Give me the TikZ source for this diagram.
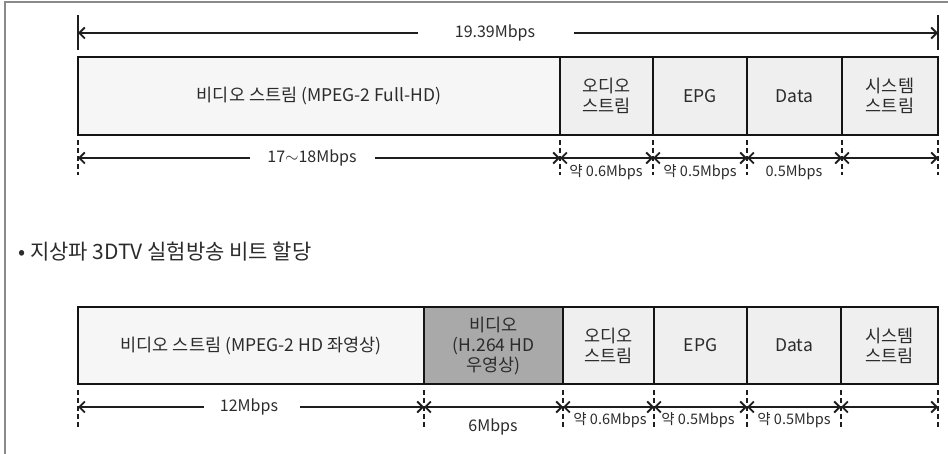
\documentclass[tikz,border=0pt]{standalone}
\usepackage{fontspec}
\setmainfont{Noto Sans CJK KR}
\usetikzlibrary{arrows.meta,calc}
\definecolor{txt}{HTML}{2B2B2B}
\definecolor{linec}{HTML}{1E1E1E}
\definecolor{framec}{HTML}{8A8A8A}
\definecolor{cellgray}{HTML}{EFEFEF}
\definecolor{cellvid}{HTML}{F6F6F6}
\definecolor{celldark}{HTML}{A9A9A9}
\begin{document}
\begin{tikzpicture}[x=1pt,y=-1pt,
  cell/.style={draw=black!92, line width=2.8pt, fill=#1, inner sep=0pt, outer sep=0pt,
    text=txt, font=\fontsize{17.5}{20}\selectfont, align=center},
  cell/.default=cellgray,
  tip/.tip={Straight Barb[length=5.5pt,width=11pt,line width=1.8pt]},
  dim/.style={line width=1.7pt, draw=linec, -tip},
  ddim/.style={line width=1.7pt, draw=linec, tip-tip},
  tickd/.style={line width=1.9pt, draw=linec, dash pattern=on 5pt off 3pt},
  ticks/.style={line width=1.9pt, draw=linec},
  lbl/.style={text=txt, inner sep=1pt, font=\fontsize{14.5}{16}\selectfont},
  big/.style={text=txt, inner sep=1pt, font=\fontsize{16}{18}\selectfont}
]
\useasboundingbox (0,0) rectangle (948,454);
\draw[framec, line width=1.2pt] (5,454) -- (5,2) -- (948,2);

% ---------- row 1 ----------
\node[cell=cellvid, minimum width=482pt, minimum height=78pt] (v1) at (319,96) {비디오 스트림 (MPEG-2 Full-HD)};
\node[cell, minimum width=93pt, minimum height=78pt] (a1) at (606.5,96) {오디오\\스트림};
\node[cell, minimum width=94pt, minimum height=78pt] (e1) at (700,96) {EPG};
\node[cell, minimum width=95pt, minimum height=78pt] (d1) at (794.5,96) {Data};
\node[cell, minimum width=96pt, minimum height=78pt] (s1) at (890,96) {시스템\\스트림};

% total
\coordinate (tl) at (78,33);
\coordinate (tr) at (938,33);
\coordinate (tg1) at (418,33);
\coordinate (tg2) at (574,33);
\node[big] (tot) at (495,33) {19.39Mbps};
\draw[ticks] ($(tl)+(0,-18)$) -- ($(tl)+(0,17)$);
\draw[ticks] ($(tr)+(0,-18)$) -- ($(tr)+(0,17)$);
\draw[dim] (tg1) -- (tl);
\draw[dim] (tg2) -- (tr);

% bottom dims row 1
\foreach \n/\x in {p0/78,p1/560,p2/653,p3/747,p4/842,p5/938}{\coordinate (\n) at (\x,158);}
\foreach \n in {p0,p1,p2,p3,p4,p5}{\draw[tickd] ($(\n)+(0,-18)$) -- ($(\n)+(0,17)$);}
\node[big] (l17) at (312,158) {17$\sim$18Mbps};
\coordinate (g1) at (250,158);
\coordinate (g2) at (375,158);
\draw[dim] (g1) -- (p0);
\draw[dim] (g2) -- (p1);
\draw[ddim] (p1) -- (p2);
\draw[ddim] (p2) -- (p3);
\draw[ddim] (p3) -- (p4);
\draw[ddim] (p4) -- (p5);
\node[lbl] (q1) at (606,172) {약 0.6Mbps};
\node[lbl] (q2) at (700,172) {약 0.5Mbps};
\node[lbl] (q3) at (794,172) {0.5Mbps};

% ---------- title ----------
\node[anchor=west, text=txt, inner sep=0pt, font=\fontsize{21}{24}\selectfont] (title) at (18,252) {• 지상파 3DTV 실험방송 비트 할당};

% ---------- row 2 ----------
\node[cell=cellvid, minimum width=346pt, minimum height=77pt] (v2) at (251,345.5) {비디오 스트림 (MPEG-2 HD 좌영상)};
\node[cell=celldark, minimum width=139pt, minimum height=77pt, font=\fontsize{17.5}{20}\selectfont] (h2) at (493.5,345.5) {비디오\\(H.264 HD\\우영상)};
\node[cell, minimum width=91pt, minimum height=77pt] (a2) at (608.5,345.5) {오디오\\스트림};
\node[cell, minimum width=93pt, minimum height=77pt] (e2) at (700.5,345.5) {EPG};
\node[cell, minimum width=94pt, minimum height=77pt] (d2) at (794,345.5) {Data};
\node[cell, minimum width=97pt, minimum height=77pt] (s2) at (889.5,345.5) {시스템\\스트림};

\foreach \n/\x in {r0/78,r1/424,r2/563,r3/654,r4/747,r5/841,r6/938}{\coordinate (\n) at (\x,407);}
\foreach \n in {r0,r1,r2,r3,r4,r5,r6}{\draw[tickd] ($(\n)+(0,-17)$) -- ($(\n)+(0,21)$);}
\node[big] (l12) at (249,407) {12Mbps};
\coordinate (h1) at (204,407);
\coordinate (h2g) at (300,407);
\draw[dim] (h1) -- (r0);
\draw[dim] (h2g) -- (r1);
\draw[ddim] (r1) -- (r2);
\draw[ddim] (r2) -- (r3);
\draw[ddim] (r3) -- (r4);
\draw[ddim] (r4) -- (r5);
\draw[ddim] (r5) -- (r6);
\node[big] (l6) at (493,427) {6Mbps};
\node[lbl] (u1) at (610,420) {약 0.6Mbps};
\node[lbl] (u2) at (698,420) {약 0.5Mbps};
\node[lbl] (u3) at (794,420) {약 0.5Mbps};
\end{tikzpicture}
\end{document}
